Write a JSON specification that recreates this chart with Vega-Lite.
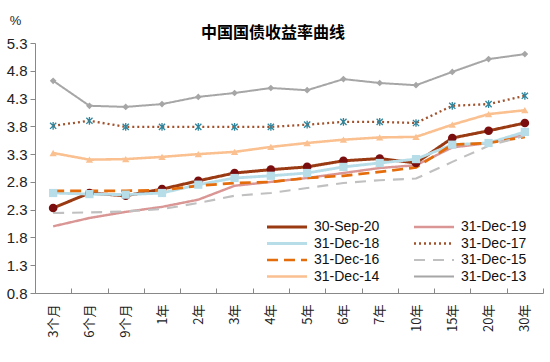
{
  "$schema": "https://vega.github.io/schema/vega-lite/v6.json",
  "width": 508,
  "height": 250,
  "autosize": {"type": "none"},
  "padding": {"left": 35, "top": 43, "right": 7, "bottom": 69},
  "background": "white",
  "config": {"view": {"stroke": null}, "font": "Liberation Sans"},
  "title": {"text": "中国国债收益率曲线", "font": "Noto Sans CJK SC", "fontSize": 16, "fontWeight": "bold", "anchor": "middle", "dx": -16, "offset": -27, "color": "#000000"},
  "datasets": {
    "yc": [
      {"t":"3个月","s":"30-Sep-20","v":2.33},{"t":"6个月","s":"30-Sep-20","v":2.60},{"t":"9个月","s":"30-Sep-20","v":2.55},{"t":"1年","s":"30-Sep-20","v":2.67},{"t":"2年","s":"30-Sep-20","v":2.82},{"t":"3年","s":"30-Sep-20","v":2.96},{"t":"4年","s":"30-Sep-20","v":3.02},{"t":"5年","s":"30-Sep-20","v":3.07},{"t":"6年","s":"30-Sep-20","v":3.18},{"t":"7年","s":"30-Sep-20","v":3.22},{"t":"10年","s":"30-Sep-20","v":3.14},{"t":"15年","s":"30-Sep-20","v":3.59},{"t":"20年","s":"30-Sep-20","v":3.72},{"t":"30年","s":"30-Sep-20","v":3.86},
      {"t":"3个月","s":"31-Dec-19","v":2.00},{"t":"6个月","s":"31-Dec-19","v":2.15},{"t":"9个月","s":"31-Dec-19","v":2.26},{"t":"1年","s":"31-Dec-19","v":2.35},{"t":"2年","s":"31-Dec-19","v":2.48},{"t":"3年","s":"31-Dec-19","v":2.73},{"t":"4年","s":"31-Dec-19","v":2.80},{"t":"5年","s":"31-Dec-19","v":2.87},{"t":"6年","s":"31-Dec-19","v":2.96},{"t":"7年","s":"31-Dec-19","v":3.05},{"t":"10年","s":"31-Dec-19","v":3.10},{"t":"15年","s":"31-Dec-19","v":3.42},{"t":"20年","s":"31-Dec-19","v":3.50},{"t":"30年","s":"31-Dec-19","v":3.65},
      {"t":"3个月","s":"31-Dec-18","v":2.60},{"t":"6个月","s":"31-Dec-18","v":2.58},{"t":"9个月","s":"31-Dec-18","v":2.57},{"t":"1年","s":"31-Dec-18","v":2.60},{"t":"2年","s":"31-Dec-18","v":2.75},{"t":"3年","s":"31-Dec-18","v":2.87},{"t":"4年","s":"31-Dec-18","v":2.91},{"t":"5年","s":"31-Dec-18","v":2.96},{"t":"6年","s":"31-Dec-18","v":3.07},{"t":"7年","s":"31-Dec-18","v":3.14},{"t":"10年","s":"31-Dec-18","v":3.21},{"t":"15年","s":"31-Dec-18","v":3.47},{"t":"20年","s":"31-Dec-18","v":3.50},{"t":"30年","s":"31-Dec-18","v":3.70},
      {"t":"3个月","s":"31-Dec-17","v":3.81},{"t":"6个月","s":"31-Dec-17","v":3.90},{"t":"9个月","s":"31-Dec-17","v":3.79},{"t":"1年","s":"31-Dec-17","v":3.79},{"t":"2年","s":"31-Dec-17","v":3.79},{"t":"3年","s":"31-Dec-17","v":3.79},{"t":"4年","s":"31-Dec-17","v":3.79},{"t":"5年","s":"31-Dec-17","v":3.83},{"t":"6年","s":"31-Dec-17","v":3.88},{"t":"7年","s":"31-Dec-17","v":3.88},{"t":"10年","s":"31-Dec-17","v":3.86},{"t":"15年","s":"31-Dec-17","v":4.17},{"t":"20年","s":"31-Dec-17","v":4.20},{"t":"30年","s":"31-Dec-17","v":4.35},
      {"t":"3个月","s":"31-Dec-16","v":2.64},{"t":"6个月","s":"31-Dec-16","v":2.64},{"t":"9个月","s":"31-Dec-16","v":2.64},{"t":"1年","s":"31-Dec-16","v":2.65},{"t":"2年","s":"31-Dec-16","v":2.73},{"t":"3年","s":"31-Dec-16","v":2.78},{"t":"4年","s":"31-Dec-16","v":2.80},{"t":"5年","s":"31-Dec-16","v":2.87},{"t":"6年","s":"31-Dec-16","v":2.91},{"t":"7年","s":"31-Dec-16","v":2.98},{"t":"10年","s":"31-Dec-16","v":3.06},{"t":"15年","s":"31-Dec-16","v":3.47},{"t":"20年","s":"31-Dec-16","v":3.50},{"t":"30年","s":"31-Dec-16","v":3.61},
      {"t":"3个月","s":"31-Dec-15","v":2.24},{"t":"6个月","s":"31-Dec-15","v":2.25},{"t":"9个月","s":"31-Dec-15","v":2.27},{"t":"1年","s":"31-Dec-15","v":2.31},{"t":"2年","s":"31-Dec-15","v":2.42},{"t":"3年","s":"31-Dec-15","v":2.55},{"t":"4年","s":"31-Dec-15","v":2.60},{"t":"5年","s":"31-Dec-15","v":2.69},{"t":"6年","s":"31-Dec-15","v":2.78},{"t":"7年","s":"31-Dec-15","v":2.83},{"t":"10年","s":"31-Dec-15","v":2.86},{"t":"15年","s":"31-Dec-15","v":3.16},{"t":"20年","s":"31-Dec-15","v":3.45},{"t":"30年","s":"31-Dec-15","v":3.63},
      {"t":"3个月","s":"31-Dec-14","v":3.32},{"t":"6个月","s":"31-Dec-14","v":3.20},{"t":"9个月","s":"31-Dec-14","v":3.21},{"t":"1年","s":"31-Dec-14","v":3.25},{"t":"2年","s":"31-Dec-14","v":3.30},{"t":"3年","s":"31-Dec-14","v":3.34},{"t":"4年","s":"31-Dec-14","v":3.43},{"t":"5年","s":"31-Dec-14","v":3.50},{"t":"6年","s":"31-Dec-14","v":3.56},{"t":"7年","s":"31-Dec-14","v":3.60},{"t":"10年","s":"31-Dec-14","v":3.61},{"t":"15年","s":"31-Dec-14","v":3.83},{"t":"20年","s":"31-Dec-14","v":4.02},{"t":"30年","s":"31-Dec-14","v":4.09},
      {"t":"3个月","s":"31-Dec-13","v":4.62},{"t":"6个月","s":"31-Dec-13","v":4.17},{"t":"9个月","s":"31-Dec-13","v":4.15},{"t":"1年","s":"31-Dec-13","v":4.20},{"t":"2年","s":"31-Dec-13","v":4.33},{"t":"3年","s":"31-Dec-13","v":4.40},{"t":"4年","s":"31-Dec-13","v":4.49},{"t":"5年","s":"31-Dec-13","v":4.45},{"t":"6年","s":"31-Dec-13","v":4.65},{"t":"7年","s":"31-Dec-13","v":4.58},{"t":"10年","s":"31-Dec-13","v":4.54},{"t":"15年","s":"31-Dec-13","v":4.78},{"t":"20年","s":"31-Dec-13","v":5.01},{"t":"30年","s":"31-Dec-13","v":5.10}
    ]
  },
  "data": {"name": "yc"},
  "encoding": {
    "x": {
      "field": "t", "type": "ordinal",
      "sort": ["3个月","6个月","9个月","1年","2年","3年","4年","5年","6年","7年","10年","15年","20年","30年"],
      "scale": {"type": "band", "paddingInner": 0, "paddingOuter": 0},
      "bandPosition": 0.5,
      "axis": {"title": null, "labelAngle": 270, "labelFont": "Noto Sans CJK SC", "labelFontSize": 13, "labelColor": "#222222", "labelPadding": 16, "tickBand": "extent", "tickSize": -5, "tickColor": "#888888", "domainColor": "#888888", "labelAlign": "right", "labelBaseline": "middle"}
    },
    "y": {
      "field": "v", "type": "quantitative",
      "scale": {"domain": [0.8, 5.3], "nice": false, "zero": false},
      "axis": {"values": [0.8,1.3,1.8,2.3,2.8,3.3,3.8,4.3,4.8,5.3], "format": ".1f", "grid": false, "labelFontSize": 15, "labelColor": "#222222", "labelPadding": 3, "tickSize": 5, "tickColor": "#888888", "domainColor": "#888888", "title": "%", "titleAngle": 0, "titleX": -20, "titleY": -23, "titleAlign": "center", "titleBaseline": "middle", "titleFontWeight": "normal", "titleFontSize": 13, "titleColor": "#222222"}
    }
  },
  "layer": [
    {
      "mark": {"type": "line"},
      "encoding": {
        "color": {
          "field": "s", "type": "nominal",
          "scale": {"domain": ["30-Sep-20","31-Dec-18","31-Dec-16","31-Dec-14","31-Dec-19","31-Dec-17","31-Dec-15","31-Dec-13"], "range": ["#9A3A12","#B7DDE8","#E46C0A","#FAC090","#D99694","#A0522D","#C0C0C0","#A6A6A6"]},
          "legend": {"title": null, "orient": "none", "legendX": 245, "legendY": 177, "columns": 2, "symbolType": "M-4,0H4", "symbolSize": 100, "symbolStrokeWidth": 3, "labelOffset": 20, "columnPadding": 29, "rowPadding": 2.5, "labelFontSize": 14, "labelColor": "#111111", "padding": 0}
        },
        "strokeDash": {
          "field": "s", "type": "nominal",
          "scale": {"domain": ["30-Sep-20","31-Dec-18","31-Dec-16","31-Dec-14","31-Dec-19","31-Dec-17","31-Dec-15","31-Dec-13"], "range": [[1,0],[1,0],[11,6],[1,0],[1,0],[2,3],[11,8],[1,0]]}
        },
        "strokeWidth": {
          "field": "s", "type": "nominal",
          "scale": {"domain": ["30-Sep-20","31-Dec-18","31-Dec-16","31-Dec-14","31-Dec-19","31-Dec-17","31-Dec-15","31-Dec-13"], "range": [3,2,4,3,3,2,3,3.5]},
          "legend": null
        }
      }
    },
    {
      "transform": [{"filter": {"field": "s", "oneOf": ["30-Sep-20","31-Dec-18","31-Dec-17","31-Dec-14","31-Dec-13"]}}],
      "mark": {"type": "point", "filled": true, "opacity": 1, "strokeWidth": 1.3},
      "encoding": {
        "shape": {
          "field": "s", "type": "nominal", "legend": null,
          "scale": {"domain": ["30-Sep-20","31-Dec-18","31-Dec-17","31-Dec-14","31-Dec-13"], "range": ["circle","square","M0,-1L0,1M-0.8,-0.8L0.8,0.8M-0.8,0.8L0.8,-0.8","triangle-up","diamond"]}
        },
        "fill": {
          "field": "s", "type": "nominal", "legend": null,
          "scale": {"domain": ["30-Sep-20","31-Dec-18","31-Dec-17","31-Dec-14","31-Dec-13"], "range": ["#7A0E0E","#B7DDE8","transparent","#FAC090","#A6A6A6"]}
        },
        "stroke": {
          "field": "s", "type": "nominal", "legend": null,
          "scale": {"domain": ["30-Sep-20","31-Dec-18","31-Dec-17","31-Dec-14","31-Dec-13"], "range": ["transparent","transparent","#31859C","transparent","transparent"]}
        },
        "size": {
          "field": "s", "type": "nominal", "legend": null,
          "scale": {"domain": ["30-Sep-20","31-Dec-18","31-Dec-17","31-Dec-14","31-Dec-13"], "range": [75,45,70,60,30]}
        }
      }
    }
  ]
}
